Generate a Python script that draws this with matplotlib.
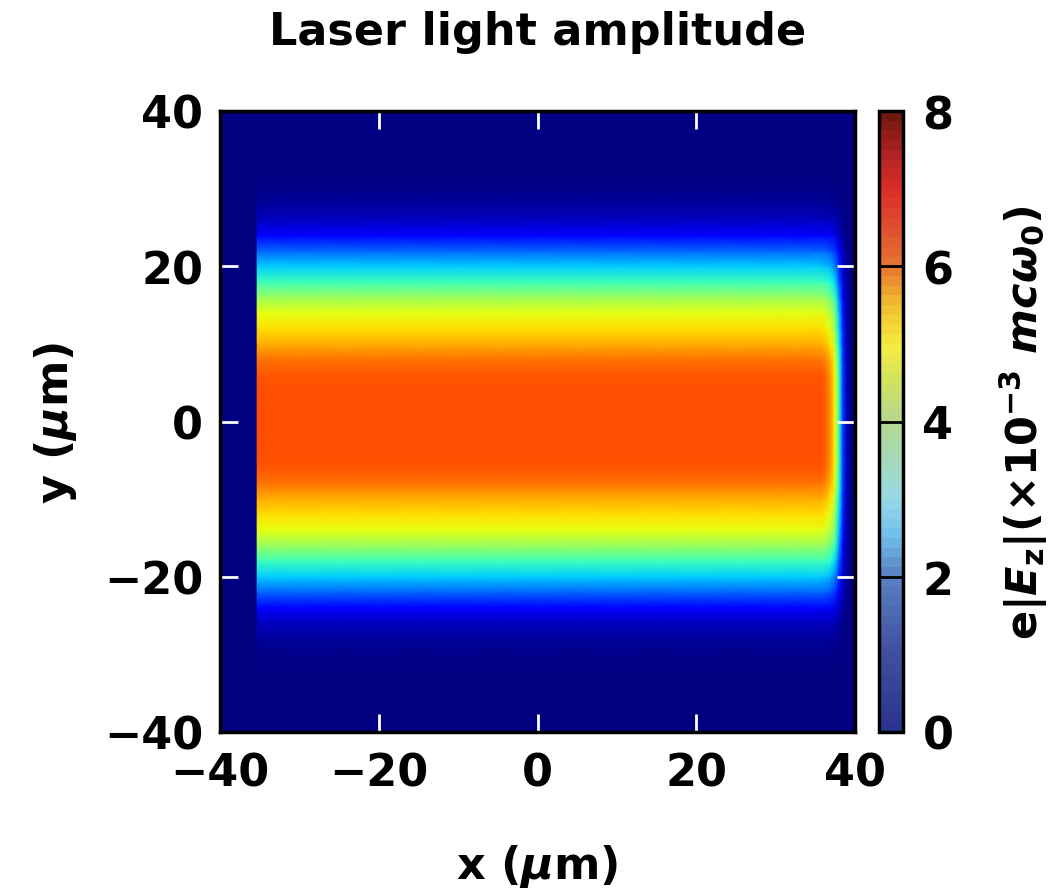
import numpy as np
import matplotlib
matplotlib.use("Agg")
import matplotlib.pyplot as plt
from matplotlib.colors import LinearSegmentedColormap, Normalize
from matplotlib.cm import ScalarMappable

plt.rcParams['font.family'] = ['DejaVu Sans']
plt.rcParams['font.weight'] = 'bold'
plt.rcParams['mathtext.fontset'] = 'custom'
plt.rcParams['mathtext.rm'] = 'DejaVu Sans:bold'
plt.rcParams['mathtext.bf'] = 'DejaVu Sans:bold'
plt.rcParams['mathtext.it'] = 'DejaVu Sans:bold:italic'
plt.rcParams['axes.unicode_minus'] = True

# ---- data ----
# transverse positions (um) and amplitude profile (x1e-3 mc w0)
y_nodes = [-40, -36, -34, -32, -30, -28, -26, -24, -22, -20, -18, -16, -14, -12, -10, -8, -6, -4, -2,
           0, 2, 4, 6, 8, 10, 12, 14, 16, 18, 20, 22, 24, 26, 28, 30, 32, 34, 36, 40]
y_profile = [0.0, 0.0, 0.0, 0.03, 0.08, 0.2, 0.45, 0.95, 1.8, 2.6, 3.4, 4.3, 5.0, 5.4, 5.8, 6.3, 6.55, 6.6, 6.6,
             6.6, 6.6, 6.6, 6.55, 6.3, 5.8, 5.4, 5.0, 4.3, 3.4, 2.6, 1.8, 0.95, 0.45, 0.2, 0.08, 0.03, 0.0, 0.0, 0.0]
# longitudinal positions (um) and envelope of the pulse (relative)
x_nodes = [-40, -35.4, -35.3, -30, -20, -10, 0, 10, 20, 30, 35, 35.5, 36, 36.5, 37, 37.5, 38, 38.5, 39, 39.5, 40]
x_envelope = [0.0, 0.0, 1.0, 1.0, 1.0, 1.0, 1.0, 1.0, 1.0, 1.0, 1.0, 1.0, 0.99, 0.96, 0.9, 0.78, 0.5, 0.22, 0.06, 0.0, 0.0]

x_ticks = [-40, -20, 0, 20, 40]
y_ticks = [-40, -20, 0, 20, 40]
c_ticks = [0, 2, 4, 6, 8]

# colours of the colour bar (muted jet, as printed)
cbar_levels = [0, 1, 2, 2.5, 3, 3.5, 4, 4.5, 5, 5.5, 6, 6.5, 7, 7.5, 8]
cbar_colors = ['#2b3590', '#4050a0', '#5a82c4', '#70bfea', '#98d9e6', '#a5d8b8',
               '#b5d890', '#d0e060', '#f5ec40', '#f0c030', '#e87a30', '#e05030',
               '#dc3028', '#b02222', '#701810']

# ---- figure ----
fig = plt.figure(figsize=(10.61, 8.95), dpi=100)
ax = fig.add_axes([220/1061, 1-733/895, 635/1061, 621/895])
cax = fig.add_axes([879/1061, 1-733/895, 24/1061, 621/895])

field = np.outer(np.array(y_profile), np.array(x_envelope))
X, Y = np.meshgrid(x_nodes, y_nodes)
ax.pcolormesh(X, Y, field, cmap='jet', vmin=0, vmax=8, shading='gouraud', rasterized=True)
ax.set_xlim(-40, 40)
ax.set_ylim(-40, 40)
ax.set_xticks(x_ticks)
ax.set_yticks(y_ticks)
ax.tick_params(direction='in', length=13, width=2, color='white',
               top=True, right=True, labelsize=32, pad=12)
ax.tick_params(axis='x', pad=14)
for s in ax.spines.values():
    s.set_linewidth(2.5)
    s.set_color('black')
ax.set_title('Laser light amplitude', fontsize=32, fontweight='bold', pad=48)
ax.set_xlabel(r'x ($\mu$m)', fontsize=32, fontweight='bold', labelpad=34)
ax.set_ylabel(r'y ($\mu$m)', fontsize=32, fontweight='bold', labelpad=18)

cb_cmap = LinearSegmentedColormap.from_list(
    'printjet', [(lv / 8.0, c) for lv, c in zip(cbar_levels, cbar_colors)], N=64)
sm = ScalarMappable(norm=Normalize(0, 8), cmap=cb_cmap)
cb = fig.colorbar(sm, cax=cax, ticks=c_ticks)
cb.outline.set_linewidth(2.5)
cax.tick_params(direction='in', length=17, width=2, color='black', labelsize=32, pad=14)
cb.set_label(r'e|$E_\mathbf{z}$|(×10$^{-3}$ $mc\omega_0$)', fontsize=31, fontweight='bold', labelpad=32)

fig.savefig('out.png', dpi=100)
